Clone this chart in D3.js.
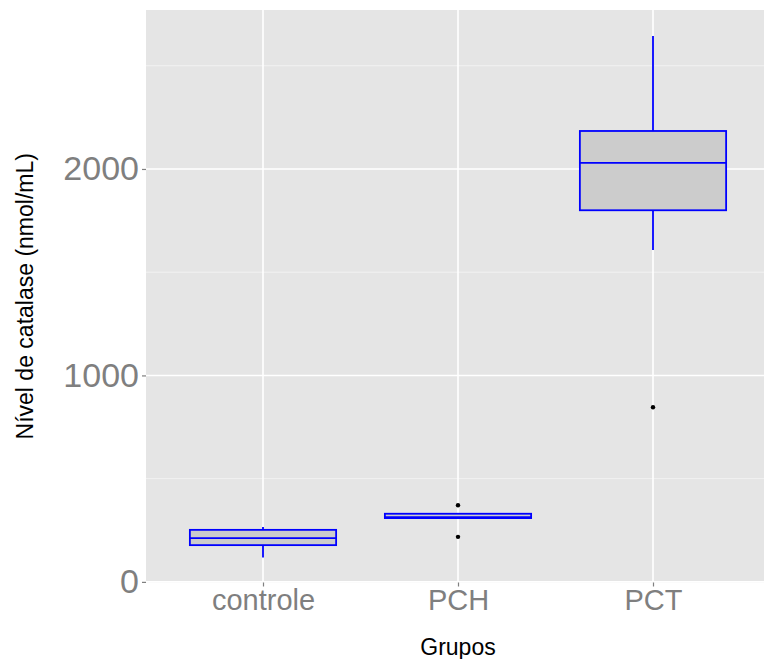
<!DOCTYPE html>
<html>
<head>
<meta charset="utf-8">
<script src="https://cdn.jsdelivr.net/npm/d3@7"></script>
<style>
html,body{margin:0;padding:0;background:#fff;}
svg{display:block;font-family:"Liberation Sans",Arial,sans-serif;}
</style>
</head>
<body>
<svg id="chart" width="764" height="659"></svg>
<script>
// ---- data ----
const categories = ["controle", "PCH", "PCT"];
const lowerWhisker = [118, 309, 1608];
const q1 = [178, 309, 1800];
const median = [212, 313, 2030];
const q3 = [252, 330, 2184];
const upperWhisker = [266, 330, 2644];
const outlierGroup = ["PCH", "PCH", "PCT"];
const outlierValue = [371, 218, 846];
const yTicks = [0, 1000, 2000];
const yMinorTicks = [500, 1500, 2500];
const xTitle = "Grupos";
const yTitle = "Nível de catalase (nmol/mL)";

// ---- layout ----
const W = 764, H = 659;
const panel = {left: 146, right: 770, top: 10, bottom: 582.5};
const svg = d3.select("#chart");

const boxes = categories.map((c, i) => ({
  cat: c, lo: lowerWhisker[i], q1: q1[i], med: median[i], q3: q3[i], hi: upperWhisker[i]
}));
const outliers = outlierGroup.map((g, i) => ({cat: g, v: outlierValue[i]}));

const x = d3.scalePoint().domain(categories)
  .range([panel.left, panel.right]).padding(0.6);
const step = x.step();
const y = d3.scaleLinear().domain([-3, 2770]).range([panel.bottom, panel.top]);

// clip
svg.append("defs").append("clipPath").attr("id", "pc")
  .append("rect").attr("x", panel.left).attr("y", panel.top)
  .attr("width", panel.right - panel.left).attr("height", panel.bottom - panel.top);

const g = svg.append("g").attr("clip-path", "url(#pc)");
g.append("rect").attr("x", panel.left).attr("y", panel.top)
  .attr("width", panel.right - panel.left).attr("height", panel.bottom - panel.top)
  .attr("fill", "#e5e5e5");

// minor grid
g.selectAll(".ymin").data(yMinorTicks).join("line")
  .attr("x1", panel.left).attr("x2", panel.right)
  .attr("y1", d => y(d)).attr("y2", d => y(d))
  .attr("stroke", "#f2f2f2").attr("stroke-width", 1);
// major grid
g.selectAll(".ymaj").data(yTicks).join("line")
  .attr("x1", panel.left).attr("x2", panel.right)
  .attr("y1", d => y(d)).attr("y2", d => y(d))
  .attr("stroke", "#ffffff").attr("stroke-width", 1.6);
g.selectAll(".xmaj").data(categories).join("line")
  .attr("x1", d => x(d)).attr("x2", d => x(d))
  .attr("y1", panel.top).attr("y2", panel.bottom)
  .attr("stroke", "#ffffff").attr("stroke-width", 1.6);

// boxplots
const bw = step * 0.75;
const sw = 1.8;
const bg = g.selectAll(".box").data(boxes).join("g");
bg.append("line")
  .attr("x1", d => x(d.cat)).attr("x2", d => x(d.cat))
  .attr("y1", d => y(d.hi)).attr("y2", d => y(d.q3))
  .attr("stroke", "#0000ff").attr("stroke-width", sw);
bg.append("line")
  .attr("x1", d => x(d.cat)).attr("x2", d => x(d.cat))
  .attr("y1", d => y(d.q1)).attr("y2", d => y(d.lo))
  .attr("stroke", "#0000ff").attr("stroke-width", sw);
bg.append("rect")
  .attr("x", d => x(d.cat) - bw / 2).attr("width", bw)
  .attr("y", d => y(d.q3)).attr("height", d => y(d.q1) - y(d.q3))
  .attr("fill", "#cccccc").attr("stroke", "#0000ff").attr("stroke-width", sw);
bg.append("line")
  .attr("x1", d => x(d.cat) - bw / 2).attr("x2", d => x(d.cat) + bw / 2)
  .attr("y1", d => y(d.med)).attr("y2", d => y(d.med))
  .attr("stroke", "#0000ff").attr("stroke-width", sw);

// outliers
g.selectAll(".out").data(outliers).join("circle")
  .attr("cx", d => x(d.cat)).attr("cy", d => y(d.v)).attr("r", 2.2)
  .attr("fill", "#000");

// axes
const yAxis = d3.axisLeft(y).tickValues(yTicks).tickFormat(d3.format("d")).tickSize(4).tickPadding(3);
const ya = svg.append("g").attr("transform", `translate(${panel.left},0)`).call(yAxis);
ya.select(".domain").remove();
ya.selectAll(".tick line").attr("stroke", "#7f7f7f").attr("stroke-width", 1.2);
ya.selectAll(".tick text").attr("fill", "#7f7f7f")
  .style("font-size", "34px").style("font-family", "Liberation Sans, Arial, sans-serif");

const xAxis = d3.axisBottom(x).tickSize(4).tickPadding(3);
const xa = svg.append("g").attr("transform", `translate(0,${panel.bottom})`).call(xAxis);
xa.select(".domain").remove();
xa.selectAll(".tick line").attr("stroke", "#7f7f7f").attr("stroke-width", 1.2);
xa.selectAll(".tick text").attr("fill", "#7f7f7f")
  .style("font-size", "29px").style("font-family", "Liberation Sans, Arial, sans-serif");

// titles
svg.append("text").attr("x", (panel.left + panel.right) / 2).attr("y", 655)
  .attr("text-anchor", "middle").attr("fill", "#000")
  .style("font-size", "23px").text(xTitle);
svg.append("text")
  .attr("transform", `translate(33,${(panel.top + panel.bottom) / 2}) rotate(-90)`)
  .attr("text-anchor", "middle").attr("fill", "#000")
  .style("font-size", "23px").text(yTitle);
</script>
</body>
</html>
